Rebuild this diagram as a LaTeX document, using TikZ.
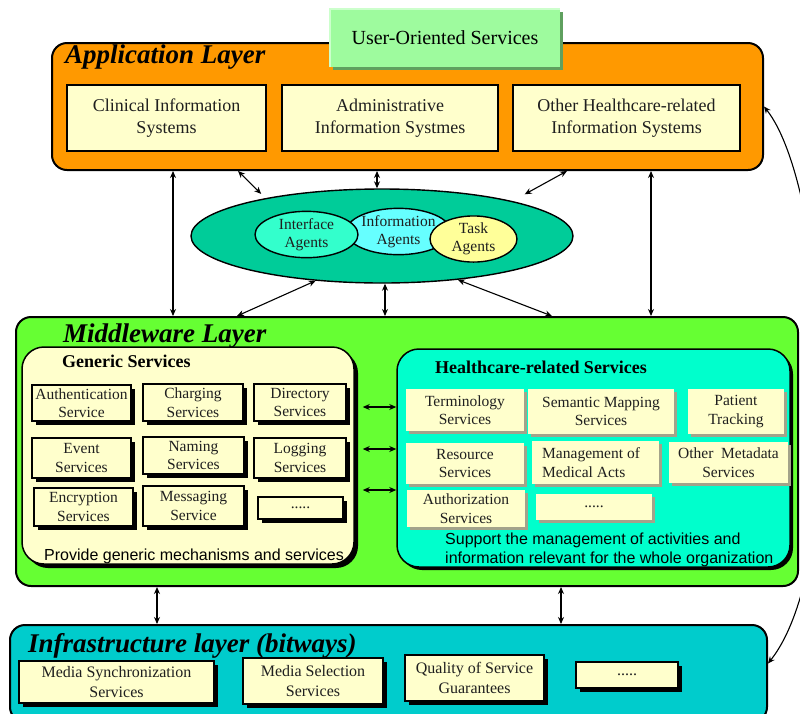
\documentclass[tikz,border=0pt]{standalone}
\usepackage{fontspec}
\setmainfont{Liberation Serif}
\setsansfont{Liberation Sans}
\usetikzlibrary{arrows.meta,shapes.geometric,shadows}

\definecolor{apporange}{HTML}{FF9900}
\definecolor{paleyellow}{HTML}{FFFFCC}
\definecolor{usergreen}{HTML}{9EFB9E}
\definecolor{usershade}{HTML}{5FA05F}
\definecolor{userlight}{HTML}{CCFFCC}
\definecolor{mwgreen}{HTML}{66FF33}
\definecolor{agentteal}{HTML}{00CC99}
\definecolor{ifaceaqua}{HTML}{33FFCC}
\definecolor{infocyan}{HTML}{66FFFF}
\definecolor{taskyellow}{HTML}{FFFF99}
\definecolor{hcaqua}{HTML}{00FFCC}
\definecolor{infrateal}{HTML}{00CCCC}
\definecolor{bevelgrey}{HTML}{A3A38A}

\begin{document}
\begin{tikzpicture}[x=1pt,y=-1pt,
  every node/.style={inner sep=0pt, text=black!88},
  % a box given by its left, top, right and bottom edges
  span/.style n args={4}{at={({(#1+#3)/2},{(#2+#4)/2})},
      minimum width={(#3-#1)*1pt}, minimum height={(#4-#2)*1pt}},
  layer/.style={draw=black, line width=2pt, rounded corners=15pt},
  layertitle/.style={anchor=base west, font=\fontsize{27}{30}\selectfont\bfseries\itshape, text=black},
  grouptitle/.style={anchor=base west, font=\fontsize{18}{22}\selectfont\bfseries, text=black},
  appbox/.style={draw=black, line width=1.5pt, fill=paleyellow, align=center, font=\fontsize{18}{22}\selectfont},
  blackshadow/.style={drop shadow={shadow xshift=3.5pt, shadow yshift=-3.5pt, fill=black, opacity=1}},
  svcbox/.style={draw=black, line width=1.2pt, fill=paleyellow, blackshadow, align=center, font=\fontsize{15.5}{18.5}\selectfont},
  hcbox/.style={fill=paleyellow, drop shadow={shadow xshift=3pt, shadow yshift=-3pt, fill=bevelgrey, opacity=1}, align=center, font=\fontsize{15.5}{18.5}\selectfont},
  infrabox/.style={svcbox, font=\fontsize{16}{20}\selectfont},
  agent/.style={ellipse, draw=black, line width=1.4pt, inner sep=0pt, align=center, font=\fontsize{15.5}{18.5}\selectfont},
  note/.style={font=\sffamily\fontsize{16}{19}\selectfont, text=black},
  link/.style={{Stealth[length=7pt,width=6pt]}-{Stealth[length=7pt,width=6pt]}, line width=1.1pt, draw=black},
]
% canvas
\fill[white] (0,0) rectangle (800,713);
\useasboundingbox (0,0) rectangle (800,713);

% ---------------- application layer ----------------
\node[layer, fill=apporange, span={52}{43}{763}{170}] (app) {};
\node[layertitle] (apptitle) at (65,63) {Application Layer};
\node[fill=usergreen, drop shadow={shadow xshift=3pt, shadow yshift=-3pt, fill=usershade, opacity=1},
      font=\fontsize{20}{24}\selectfont, text=black, span={330}{9}{560}{67}] (uos) {User-Oriented Services};
\draw[userlight, line width=2pt] (uos.south west) |- (uos.north east);
\node[appbox, span={67}{85}{266}{151}] (clinical) {Clinical Information\\Systems};
\node[appbox, span={282}{85}{498}{151}] (admin) {Administrative\\Information Systmes};
\node[appbox, span={513}{85}{740}{151}] (otherhis) {Other Healthcare-related\\Information Systems};

% ---------------- agents ----------------
\node[agent, fill=agentteal, minimum width=382pt, minimum height=94pt] (agents) at (382,236) {};
\node[agent, fill=infocyan, minimum width=103pt, minimum height=43pt] (info) at (398.5,231.5) {Information\\Agents};
\node[agent, fill=ifaceaqua, minimum width=103pt, minimum height=45pt] (iface) at (306.5,234.5) {Interface\\Agents};
\node[agent, fill=taskyellow, minimum width=87pt, minimum height=40pt] (task) at (473.5,239) {Task\\Agents};

% ---------------- middleware layer ----------------
\node[layer, fill=mwgreen, span={16}{317}{798}{586}] (mid) {};
\node[layertitle] (midtitle) at (63,342) {Middleware Layer};

\node[draw=black, line width=1.5pt, fill=paleyellow, rounded corners=22pt,
      drop shadow={shadow xshift=4pt, shadow yshift=-4pt, fill=black, opacity=1},
      span={22}{347}{354}{564}] (generic) {};
\node[grouptitle] (gentitle) at (62,367) {Generic Services};
\node[svcbox, span={32}{385}{131}{421}] (authn) {Authentication\\Service};
\node[svcbox, span={143}{384}{243}{421}] (charging) {Charging\\Services};
\node[svcbox, span={254}{384}{346}{421}] (directory) {Directory\\Services};
\node[svcbox, span={32}{438}{131}{478}] (event) {Event\\Services};
\node[svcbox, span={143}{437}{244}{474}] (naming) {Naming\\Services};
\node[svcbox, span={254}{438}{346}{478}] (logging) {Logging\\Services};
\node[svcbox, span={34}{488}{133}{526}] (encrypt) {Encryption\\Services};
\node[svcbox, span={143}{486}{244}{526}] (messaging) {Messaging\\Service};
\node[svcbox, span={258}{497}{343}{519}] (genmore) {.....};
\node[note, anchor=base west] (gennote) at (44,560) {Provide generic mechanisms and services};

\node[draw=black, line width=1.5pt, fill=hcaqua, rounded corners=22pt,
      drop shadow={shadow xshift=3pt, shadow yshift=-3pt, fill=black, opacity=1},
      span={397}{349}{790}{567}] (health) {};
\node[grouptitle] (hctitle) at (435,373) {Healthcare-related Services};
\node[hcbox, span={406}{389}{524}{431}] (term) {Terminology\\Services};
\node[hcbox, span={528}{389}{674}{434}] (semantic) {Semantic Mapping\\Services};
\node[hcbox, span={688}{389}{784}{434}] (patient) {Patient\\Tracking};
\node[hcbox, span={406}{443}{524}{484}] (resource) {Resource\\Services};
\node[hcbox, span={532}{441}{659}{484}] (medacts) {};
\node[anchor=west, align=left, font=\fontsize{15.5}{18.5}\selectfont] (medactstext) at (542,462.5) {Management of\\Medical Acts};
\node[hcbox, span={669}{442}{788}{483}] (metadata) {Other~ Metadata\\Services};
\node[hcbox, span={407}{490}{525}{527}] (authz) {Authorization\\Services};
\node[hcbox, span={536}{494}{652}{520}] (hcmore) {.....};
\node[note, anchor=north west, align=left] (hcnote) at (445,533)
  {Support the management of activities and\\information relevant for the whole organization};

% ---------------- infrastructure layer ----------------
\node[layer, fill=infrateal, span={10}{625}{767}{722}] (infra) {};
\node[layertitle] (infratitle) at (28,652) {Infrastructure layer (bitways)};
\node[infrabox, span={19}{661}{214}{703}] (msync) {Media Synchronization\\Services};
\node[infrabox, span={243}{658}{383}{704}] (msel) {Media Selection\\Services};
\node[infrabox, span={405}{655}{544}{701}] (qos) {Quality of Service\\Guarantees};
\node[infrabox, span={576}{662}{678}{688}] (inframore) {.....};

% ---------------- connectors ----------------
\draw[link] ([xshift=-234.5pt]app.south) -- ([xshift=-234.5pt]app.south |- mid.north);
\draw[link] ([xshift=243.5pt]app.south) -- ([xshift=243.5pt]app.south |- mid.north);
\draw[link, shorten >=6pt] ([xshift=-169.5pt]app.south) -- (agents.162);
\draw[link] ([xshift=-5pt]agents.north |- app.south) -- ([xshift=-5pt]agents.north);
\draw[link, shorten >=14pt] ([xshift=159.5pt]app.south) -- (agents.15);
\draw[link] (agents.214) -- ([xshift=-170pt]mid.north);
\draw[link] ([xshift=3pt]agents.south) -- ([xshift=3pt]agents.south |- mid.north);
\draw[link] (agents.330) -- ([xshift=145pt]mid.north);

\draw[link, shorten <=8pt] ([yshift=48.5pt]generic.east) -- ([yshift=48.5pt]generic.east -| health.west);
\draw[link, shorten <=8pt] ([yshift=6.5pt]generic.east) -- ([yshift=6.5pt]generic.east -| health.west);
\draw[link, shorten <=8pt] ([yshift=-34.5pt]generic.east) -- ([yshift=-34.5pt]generic.east -| health.west);

\draw[link] ([xshift=-250pt]mid.south) -- ([xshift=-250pt]mid.south |- infra.north);
\draw[link] ([xshift=154pt]mid.south) -- ([xshift=154pt]mid.south |- infra.north);

\draw[link] (app.east) .. controls (830,190) and (850,560) .. ([yshift=10pt]infra.east);
\end{tikzpicture}
\end{document}
